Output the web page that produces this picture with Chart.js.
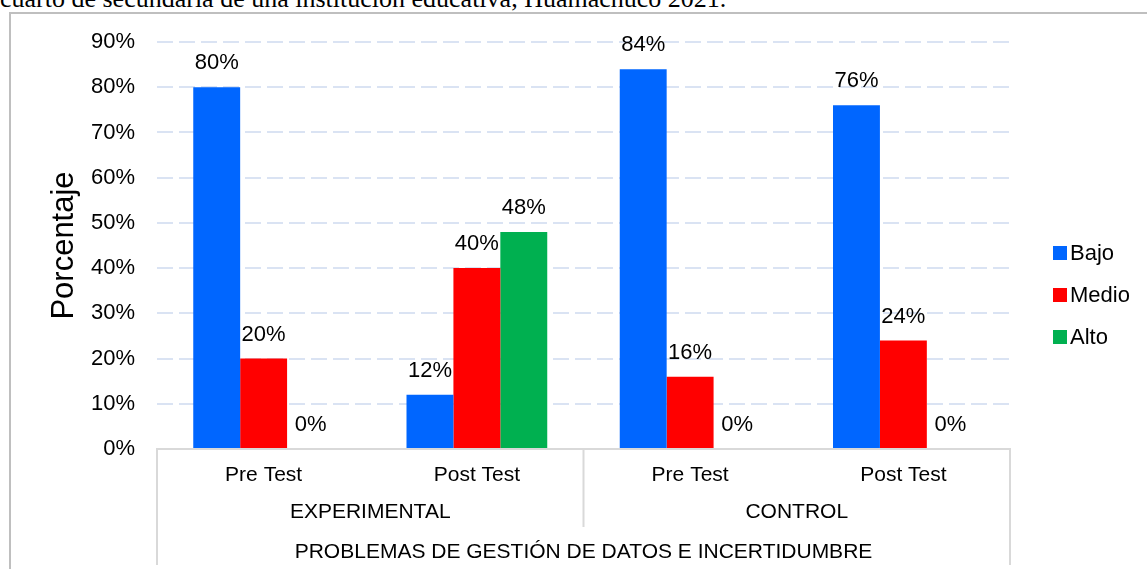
<!DOCTYPE html>
<html lang="es">
<head>
    <meta charset="UTF-8">
    <title>Problemas de gestión de datos e incertidumbre</title>
    <script src="https://cdn.jsdelivr.net/npm/chart.js"></script>
    <style>
        body { margin: 0; padding: 0; background: #fff; width: 1147px; height: 569px; overflow: hidden; position: relative; }
        #caption { position: absolute; left: 0; top: -15px; font-family: "Liberation Serif", "Times New Roman", serif; font-size: 26px; line-height: 28px; white-space: nowrap; color: #000; }
        #frame { position: absolute; left: 9px; top: 12px; width: 1200px; height: 600px; border: 2px solid #BFBFBF; }
        #chartBox { position: absolute; left: 0; top: 0; width: 1147px; height: 569px; }
    </style>
</head>
<body>
    <div id="caption">cuarto de secundaria de una institución educativa, Huamachuco 2021.</div>
    <div id="frame"></div>
    <div id="chartBox"><canvas id="barChart"></canvas></div>

    <script>
        const groups = ['Pre Test', 'Post Test', 'Pre Test', 'Post Test'];
        const sections = ['EXPERIMENTAL', 'CONTROL'];
        const axisTitle = 'PROBLEMAS DE GESTIÓN DE DATOS E INCERTIDUMBRE';
        const bajo = [80, 12, 84, 76];
        const medio = [20, 40, 16, 24];
        const alto = [0, 48, 0, 0];
        const seriesNames = ['Bajo', 'Medio', 'Alto'];
        const seriesColors = ['#0066FF', '#FF0000', '#00B050'];

        const FONT = '"Liberation Sans", Arial, sans-serif';
        const lineColor = '#D9D9D9';

        // value labels above each bar
        const valueLabels = {
            id: 'valueLabels',
            afterDatasetsDraw(chart) {
                const c = chart.ctx;
                c.save();
                c.font = '22px ' + FONT;
                c.fillStyle = '#000';
                c.textAlign = 'center';
                c.textBaseline = 'middle';
                chart.data.datasets.forEach((ds, i) => {
                    chart.getDatasetMeta(i).data.forEach((bar, j) => {
                        c.fillText(ds.data[j] + '%', bar.x, bar.y - 24);
                    });
                });
                c.restore();
            }
        };

        // multi-level category axis + legend
        const groupAxis = {
            id: 'groupAxis',
            afterDraw(chart) {
                const c = chart.ctx;
                const area = chart.chartArea;
                const x = chart.scales.x;
                const bottom = area.bottom;
                const w = (area.right - area.left) / groups.length;
                c.save();
                c.strokeStyle = lineColor;
                c.lineWidth = 2;
                c.beginPath();
                c.moveTo(area.left, bottom); c.lineTo(area.left, bottom + 116);
                c.moveTo(area.right, bottom); c.lineTo(area.right, bottom + 116);
                c.moveTo(area.left + 2 * w, bottom); c.lineTo(area.left + 2 * w, bottom + 78);
                c.stroke();

                c.fillStyle = '#000';
                c.textAlign = 'center';
                c.textBaseline = 'middle';
                c.font = '21px ' + FONT;
                groups.forEach((g, i) => {
                    c.fillText(g, x.getPixelForValue(i), bottom + 26);
                });
                sections.forEach((s, i) => {
                    c.fillText(s, area.left + (2 * i + 1) * w, bottom + 63);
                });
                c.fillText(axisTitle, (area.left + area.right) / 2, bottom + 103);

                // legend
                c.font = '22px ' + FONT;
                c.textAlign = 'left';
                seriesNames.forEach((n, i) => {
                    const y = 253 + i * 42;
                    c.fillStyle = seriesColors[i];
                    c.fillRect(1053, y - 7, 14, 14);
                    c.fillStyle = '#000';
                    c.fillText(n, 1070, y + 1);
                });
                c.restore();
            }
        };

        new Chart(document.getElementById('barChart'), {
            type: 'bar',
            data: {
                labels: groups,
                datasets: seriesNames.map((name, i) => ({
                    label: name,
                    data: [bajo, medio, alto][i],
                    backgroundColor: seriesColors[i],
                    categoryPercentage: 0.66,
                    barPercentage: 1.0
                }))
            },
            options: {
                responsive: true,
                maintainAspectRatio: false,
                animation: false,
                layout: { padding: { left: 0, top: 42, right: 137, bottom: 0 } },
                plugins: {
                    legend: { display: false },
                    tooltip: { enabled: false }
                },
                scales: {
                    x: {
                        ticks: { display: false },
                        grid: { display: false },
                        border: { display: true, color: lineColor, width: 2 },
                        afterFit(scale) { scale.height = 120; }
                    },
                    y: {
                        min: 0,
                        max: 90,
                        ticks: {
                            stepSize: 10,
                            padding: 22,
                            color: '#000',
                            font: { family: FONT, size: 22 },
                            callback: v => v + '%'
                        },
                        grid: {
                            drawTicks: false,
                            lineWidth: 2,
                            color: ctx => ctx.tick.value === 0 ? 'rgba(0,0,0,0)' : '#DAE3F3'
                        },
                        border: { display: false, dash: [16, 6] },
                        title: {
                            display: true,
                            text: 'Porcentaje',
                            color: '#000',
                            font: { family: FONT, size: 31 },
                            padding: { top: 46, bottom: 0 }
                        },
                        afterFit(scale) { scale.width = 157; }
                    }
                }
            },
            plugins: [valueLabels, groupAxis]
        });
    </script>
</body>
</html>
